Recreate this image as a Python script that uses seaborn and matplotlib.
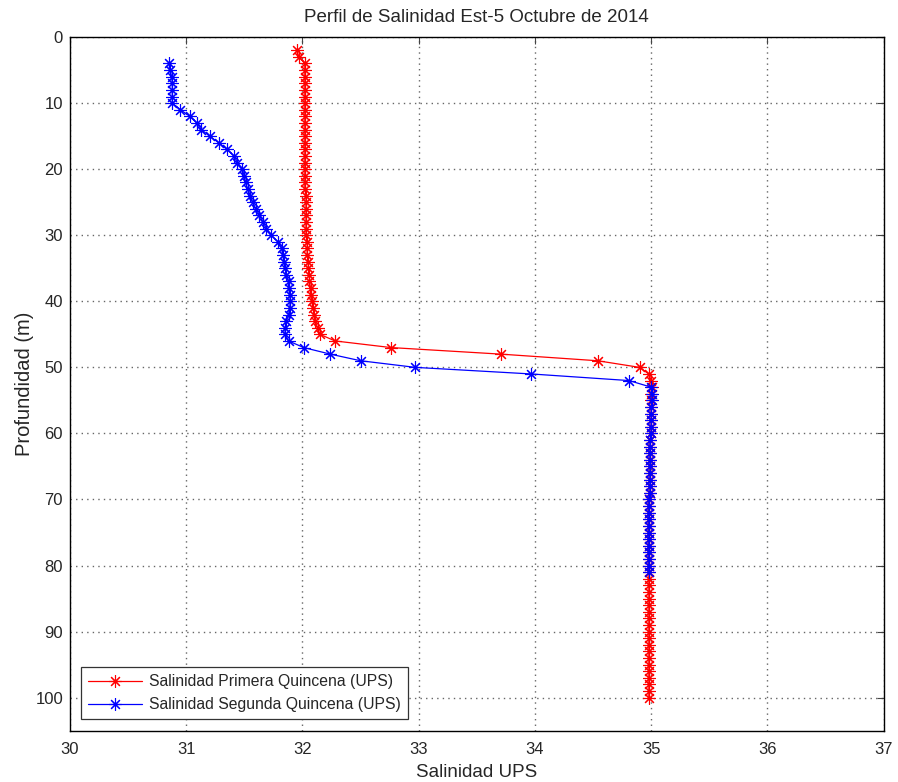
import numpy as np
import pandas as pd
import seaborn as sns
import matplotlib.pyplot as plt

# Profundidades (m)
prof_primera = list(range(2, 101))
prof_segunda = list(range(4, 82))

# Salinidad primera quincena (UPS), prof 2..100 (10 por fila)
sal_primera = [31.95, 31.97, 32.02, 32.02, 32.02, 32.02, 32.02, 32.02, 32.02, 32.02,   # 2-11
               32.02, 32.02, 32.02, 32.02, 32.02, 32.02, 32.02, 32.02, 32.02, 32.02,   # 12-21
               32.02, 32.02, 32.03, 32.03, 32.03, 32.03, 32.03, 32.03, 32.03, 32.04,   # 22-31
               32.04, 32.04, 32.05, 32.05, 32.06, 32.06, 32.07, 32.07, 32.08, 32.09,   # 32-41
               32.10, 32.11, 32.13, 32.15, 32.28, 32.76, 33.71, 34.54, 34.90, 34.98,   # 42-51
               35.00, 35.01, 35.00, 35.00, 35.00, 35.00, 35.00, 35.00, 35.00, 34.99,   # 52-61
               34.99, 34.99, 34.99, 34.99, 34.99, 34.99, 34.99, 34.99, 34.98, 34.98,   # 62-71
               34.98, 34.98, 34.98, 34.98, 34.98, 34.98, 34.98, 34.98, 34.98, 34.98,   # 72-81
               34.98, 34.98, 34.98, 34.98, 34.98, 34.98, 34.98, 34.98, 34.98, 34.98,   # 82-91
               34.98, 34.98, 34.98, 34.98, 34.98, 34.98, 34.98, 34.98, 34.98]          # 92-100

# Salinidad segunda quincena (UPS), prof 4..81 (10 por fila)
sal_segunda = [30.85, 30.86, 30.875, 30.88, 30.88, 30.88, 30.88, 30.95, 31.03, 31.09,  # 4-13
               31.13, 31.20, 31.28, 31.35, 31.41, 31.44, 31.48, 31.50, 31.51, 31.53,   # 14-23
               31.55, 31.57, 31.60, 31.63, 31.66, 31.69, 31.73, 31.79, 31.82, 31.83,   # 24-33
               31.84, 31.85, 31.86, 31.88, 31.88, 31.89, 31.895, 31.89, 31.88, 31.86,  # 34-43
               31.85, 31.85, 31.88, 32.01, 32.24, 32.50, 32.97, 33.97, 34.81, 35.00,   # 44-53
               35.01, 35.01, 35.00, 35.00, 35.00, 35.00, 35.00, 34.99, 34.99, 34.99,   # 54-63
               34.99, 34.99, 34.99, 34.99, 34.99, 34.99, 34.98, 34.98, 34.98, 34.98,   # 64-73
               34.98, 34.98, 34.98, 34.98, 34.98, 34.98, 34.98, 34.98]                 # 74-81

sns.set_style('white')
plt.rcParams['font.family'] = ['Liberation Sans', 'DejaVu Sans']

fig = plt.figure(figsize=(8.98, 7.82), dpi=100)
ax = fig.add_axes([0.078, 0.0656, 0.906, 0.887])

marcador = (8, 2, 0)
sns.lineplot(x=sal_primera, y=prof_primera, sort=False, estimator=None, ax=ax,
             color='red', linewidth=0.9, marker=marcador, markersize=9,
             markeredgecolor='red', markeredgewidth=0.8,
             label='Salinidad Primera Quincena (UPS)')
sns.lineplot(x=sal_segunda, y=prof_segunda, sort=False, estimator=None, ax=ax,
             color='blue', linewidth=0.9, marker=marcador, markersize=9,
             markeredgecolor='blue', markeredgewidth=0.8,
             label='Salinidad Segunda Quincena (UPS)')

ax.set_xlim(30, 37)
ax.set_ylim(105, 0)
ax.set_xticks(range(30, 38))
ax.set_yticks(range(0, 101, 10))
ax.grid(True, linestyle=(0, (1, 3)), color='#666666', linewidth=1.0)
ax.tick_params(direction='in', length=5, labelsize=12, color='#444444',
               top=True, right=True)
ax.tick_params(axis='x', pad=8)
ax.tick_params(axis='y', pad=5)
for s in ax.spines.values():
    s.set_color('black')
    s.set_linewidth(1.0)

ax.set_title('Perfil de Salinidad Est-5 Octubre de 2014', fontsize=13.5, pad=11)
ax.set_xlabel('Salinidad UPS', fontsize=13.5, labelpad=5)
ax.set_ylabel('Profundidad (m)', fontsize=14.5, labelpad=1)

leg = ax.legend(loc='lower left', fontsize=11.3, fancybox=False, framealpha=1,
                edgecolor='#333333', borderpad=0.45, handlelength=3.4,
                handletextpad=0.5, labelspacing=0.5,
                bbox_to_anchor=(0.004, 0.005))
leg.get_frame().set_linewidth(0.9)

fig.savefig('out.png', dpi=100)
